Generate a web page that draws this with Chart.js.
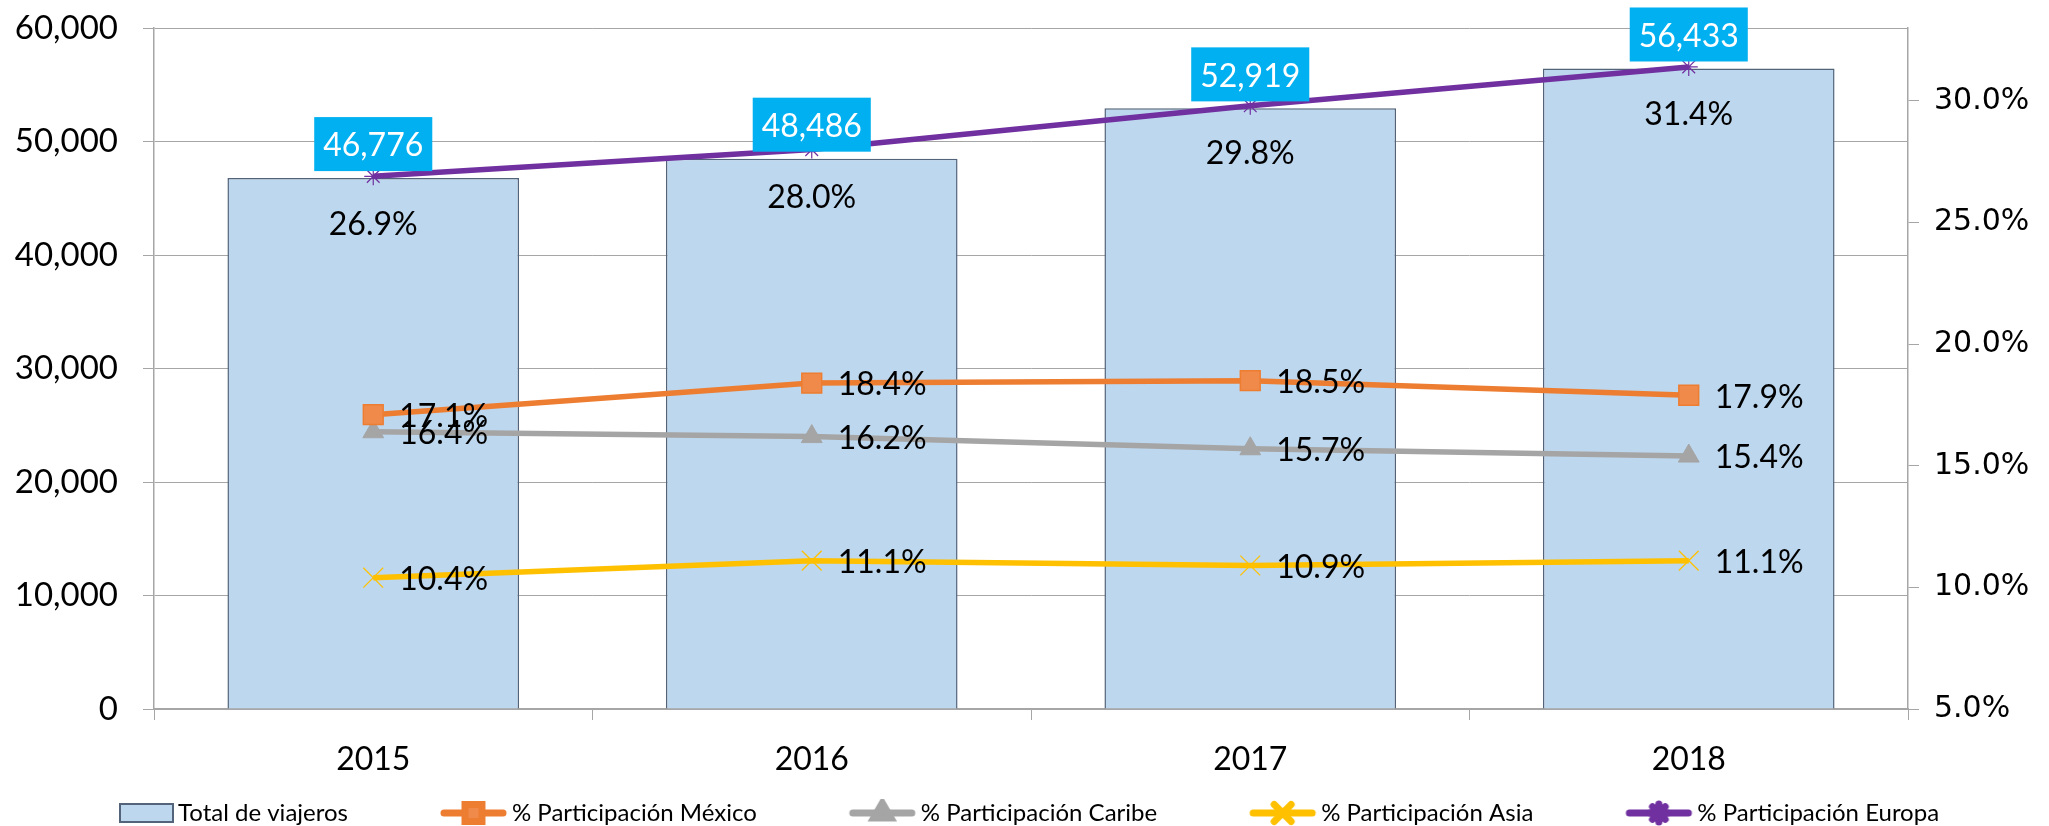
<!DOCTYPE html>
<html>
<head>
<meta charset="utf-8">
<script src="https://cdn.jsdelivr.net/npm/chart.js@4.4.0/dist/chart.umd.min.js"></script>
<style>
  html, body { margin: 0; padding: 0; background: #fff; }
  #wrap { width: 2049px; height: 826px; }
</style>
</head>
<body>
<div id="wrap"><canvas id="myChart" width="2049" height="826"></canvas></div>
<script>
// data
const years = ["2015", "2016", "2017", "2018"];
const totalViajeros = [46776, 48486, 52919, 56433];
const pctMexico = [17.1, 18.4, 18.5, 17.9];
const pctCaribe = [16.4, 16.2, 15.7, 15.4];
const pctAsia = [10.4, 11.1, 10.9, 11.1];
const pctEuropa = [26.9, 28.0, 29.8, 31.4];
const leftTicks = [0, 10000, 20000, 30000, 40000, 50000, 60000];
const rightTicks = [5, 10, 15, 20, 25, 30];

Chart.defaults.font.family = "Lato";

const LEG_W = 142;
const LEG_FONT = 24;

// legend icons: line with marker, or box for the bars
function makeIcon(kind, color, style, radius, fill) {
  const c = document.createElement("canvas");
  c.width = LEG_W + LEG_FONT - 8;
  c.height = 28;
  const g = c.getContext("2d");
  const cy = 14;
  if (kind === "bar") {
    g.fillStyle = "#BDD7EE";
    g.strokeStyle = "#52637A";
    g.lineWidth = 2;
    g.fillRect(c.width - 54, cy - 9, 53, 18);
    g.strokeRect(c.width - 54, cy - 9, 53, 18);
  } else {
    const x1 = c.width - 68, x2 = c.width - 1;
    g.strokeStyle = color;
    g.lineWidth = 7;
    g.lineCap = "round";
    g.beginPath();
    g.moveTo(x1 + 4, cy);
    g.lineTo(x2 - 4, cy);
    g.stroke();
    g.fillStyle = fill;
    g.strokeStyle = color;
    Chart.helpers.drawPoint(g, { pointStyle: style, radius: radius, borderWidth: 1.5 }, (x1 + x2) / 2, cy);
  }
  return c;
}

const legendIcons = [
  makeIcon("bar"),
  makeIcon("line", "#ED7D31", "rect", 12, "#F08A4B"),
  makeIcon("line", "#A5A5A5", "triangle", 10, "#A5A5A5"),
  makeIcon("line", "#FFC000", "crossRot", 12, "#FFC000"),
  makeIcon("line", "#7030A0", "star", 9, "#7030A0")
];

const labelPlugin = {
  id: "valueLabels",
  afterDatasetsDraw(chart) {
    const ctx = chart.ctx;
    ctx.save();
    ctx.font = "32px Lato";
    chart.data.datasets.forEach((ds, i) => {
      const meta = chart.getDatasetMeta(i);
      meta.data.forEach((el, j) => {
        const v = ds.data[j];
        if (ds.type === "bar") {
          const txt = v.toLocaleString("en-US");
          const w = ctx.measureText(txt).width + 18;
          const h = 54;
          const bottom = el.y - 7;
          ctx.fillStyle = "#00B0F0";
          ctx.fillRect(el.x - w / 2, bottom - h, w, h);
          ctx.fillStyle = "#fff";
          ctx.textAlign = "center";
          ctx.textBaseline = "middle";
          ctx.fillText(txt, el.x, bottom - h / 2 + 2);
        } else if (ds.labelPos === "below") {
          ctx.fillStyle = "#000";
          ctx.textAlign = "center";
          ctx.textBaseline = "middle";
          ctx.fillText(v.toFixed(1) + "%", el.x, el.y + 48);
        } else {
          ctx.fillStyle = "#000";
          ctx.textAlign = "left";
          ctx.textBaseline = "middle";
          ctx.fillText(v.toFixed(1) + "%", el.x + 26, el.y + 2);
        }
      });
    });
    ctx.restore();
  }
};

// y axes: keep tick label overflow from pushing the plot area down
const noAxisPad = s => { s.paddingTop = 0; s.paddingBottom = 0; };

const ctx = document.getElementById("myChart");
new Chart(ctx, {
  type: "bar",
  data: {
    labels: years,
    datasets: [
      {
        type: "bar",
        label: "Total de viajeros",
        data: totalViajeros,
        yAxisID: "y",
        backgroundColor: "#BDD7EE",
        borderColor: "#52637A",
        borderWidth: 1.5,
        barPercentage: 0.665,
        categoryPercentage: 1,
        order: 2
      },
      {
        type: "line",
        label: "% Participación México",
        data: pctMexico,
        yAxisID: "y1",
        borderColor: "#ED7D31",
        borderWidth: 5.5,
        pointStyle: "rect",
        pointRadius: 14,
        pointBorderWidth: 1.5,
        pointBackgroundColor: "#F08A4B",
        pointBorderColor: "#ED7D31",
        labelPos: "right",
        order: 1
      },
      {
        type: "line",
        label: "% Participación Caribe",
        data: pctCaribe,
        yAxisID: "y1",
        borderColor: "#A5A5A5",
        borderWidth: 5.5,
        pointStyle: "triangle",
        pointRadius: 12,
        pointBorderWidth: 1,
        pointBackgroundColor: "#A5A5A5",
        pointBorderColor: "#A5A5A5",
        labelPos: "right",
        order: 1
      },
      {
        type: "line",
        label: "% Participación Asia",
        data: pctAsia,
        yAxisID: "y1",
        borderColor: "#FFC000",
        borderWidth: 5.5,
        pointStyle: "crossRot",
        pointRadius: 14,
        pointBorderWidth: 1.2,
        pointBorderColor: "#FFC000",
        labelPos: "right",
        order: 1
      },
      {
        type: "line",
        label: "% Participación Europa",
        data: pctEuropa,
        yAxisID: "y1",
        borderColor: "#7030A0",
        borderWidth: 5.5,
        pointStyle: "star",
        pointRadius: 9,
        pointBorderWidth: 1.2,
        pointBorderColor: "#7030A0",
        labelPos: "below",
        order: 0
      }
    ]
  },
  options: {
    responsive: false,
    animation: false,
    devicePixelRatio: 1,
    layout: { padding: { top: 28, left: 14, right: 0, bottom: -9 } },
    plugins: {
      tooltip: { enabled: false },
      legend: {
        position: "bottom",
        align: "start",
        labels: {
          usePointStyle: true,
          pointStyleWidth: LEG_W,
          padding: 10,
          color: "#000",
          font: { size: LEG_FONT },
          generateLabels: chart => chart.data.datasets.map((ds, i) => ({
            text: ds.label,
            pointStyle: legendIcons[i],
            datasetIndex: i,
            hidden: false,
            lineWidth: 0,
            strokeStyle: "rgba(0,0,0,0)",
            fillStyle: "rgba(0,0,0,0)",
            fontColor: "#000"
          }))
        }
      }
    },
    scales: {
      x: {
        grid: { drawOnChartArea: false, drawTicks: true, tickLength: 11, color: "#A6A6A6", offset: true },
        border: { color: "#A6A6A6", width: 1.5 },
        ticks: { color: "#000", font: { size: 32 }, padding: 20 },
        afterFit: s => { s.height = 82; }
      },
      y: {
        position: "left",
        min: 0,
        max: 60000,
        grid: { color: "#A6A6A6", tickLength: 11 },
        border: { color: "#A6A6A6", width: 1.5 },
        ticks: {
          color: "#000",
          font: { size: 33 },
          padding: 25,
          callback: v => v.toLocaleString("en-US")
        },
        afterBuildTicks: s => { s.ticks = leftTicks.map(v => ({ value: v })); },
        afterFit: s => { s.width = 140; noAxisPad(s); }
      },
      y1: {
        position: "right",
        min: 5,
        max: 33,
        grid: { drawOnChartArea: false, tickLength: 11, color: "#A6A6A6" },
        border: { color: "#A6A6A6", width: 1.5 },
        ticks: {
          color: "#000",
          font: { family: "DejaVu Sans", size: 30 },
          padding: 15,
          callback: v => v.toFixed(1) + "%"
        },
        afterBuildTicks: s => { s.ticks = rightTicks.map(v => ({ value: v })); },
        afterFit: s => { s.width = 141; noAxisPad(s); }
      }
    }
  },
  plugins: [labelPlugin]
});
</script>
</body>
</html>
